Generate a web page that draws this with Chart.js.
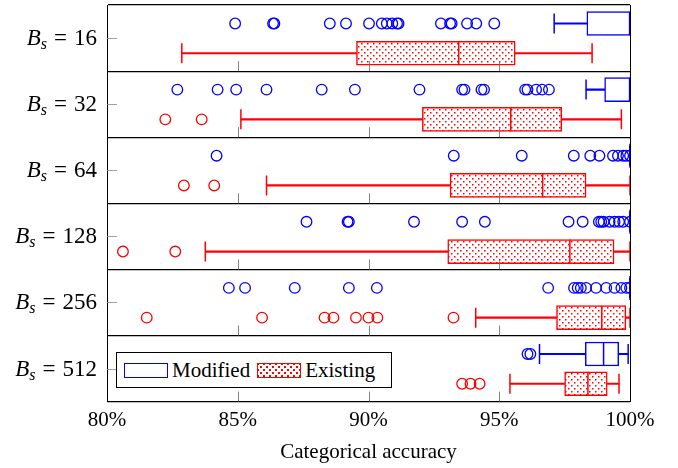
<!DOCTYPE html>
<html>
<head>
<meta charset="utf-8">
<script src="https://cdn.jsdelivr.net/npm/chart.js@4"></script>
<style>
  body { margin: 0; background: #fff; }
  #wrap { position: relative; width: 678px; height: 468px; }
  #legend {
    position: absolute; left: 116px; top: 352px; width: 276px; height: 36px;
    border: 1px solid #000; background: #fff;
    font: 21px "Liberation Serif", serif; color: #000;
    display: flex; align-items: center; padding-left: 7px; box-sizing: border-box;
  }
  .sw { width: 44px; height: 15px; margin-right: 4px; box-sizing: border-box; }
  .sw.mod { border: 1.5px solid #0000ff; background: #fff; }
  .sw.ex {
    border: 1.5px solid #ff0000; background-color: #fff; margin-left: 7px;
    background-image: radial-gradient(#ff0000 0.9px, transparent 1.1px),
                      radial-gradient(#ff0000 0.9px, transparent 1.1px);
    background-size: 6px 6px; background-position: 0 0, 3px 3px;
  }
</style>
</head>
<body>
<div id="wrap">
  <canvas id="chart" width="678" height="468"></canvas>
  <div id="legend"><div class="sw mod"></div>Modified<div class="sw ex"></div>Existing</div>
</div>
<script>
// batch sizes, one panel each (top to bottom)
const batchSizes = [16, 32, 64, 128, 256, 512];
const xTicks = [80, 85, 90, 95, 100];

// [lower whisker, Q1, median, Q3, upper whisker]
const modifiedBoxes = [
  [97.1, 98.35, 100, 100, 100],
  [98.32, 99.03, 100, 100, 100],
  [100, 100, 100, 100, 100],
  [100, 100, 100, 100, 100],
  [100, 100, 100, 100, 100],
  [96.54, 98.29, 98.99, 99.57, 99.93],
];
const existingBoxes = [
  [82.86, 89.54, 93.45, 95.61, 98.55],
  [85.12, 92.06, 95.44, 97.39, 99.67],
  [86.1, 93.12, 96.66, 98.32, 100],
  [83.76, 93.03, 97.7, 99.39, 100],
  [94.1, 97.19, 98.92, 99.84, 100],
  [95.41, 97.5, 98.39, 99.13, 99.58],
];

const modifiedOutliers = [
  [84.9, 86.35, 86.4, 88.52, 89.14, 90.02, 90.51, 90.7, 90.91, 91.09, 91.15, 92.77, 93.12, 93.18, 93.77, 94.12, 94.81],
  [82.69, 84.23, 84.94, 86.1, 88.21, 89.48, 91.95, 93.58, 93.67, 94.32, 94.42, 95.99, 96.08, 96.41, 96.64, 96.9],
  [84.19, 93.26, 95.86, 97.85, 98.48, 98.83, 99.35, 99.54, 99.74, 99.86, 100],
  [87.63, 89.2, 89.25, 91.74, 93.58, 94.45, 97.65, 98.19, 98.81, 98.9, 98.99, 99.22, 99.41, 99.58, 99.74, 100],
  [84.66, 85.28, 87.18, 89.25, 90.32, 96.87, 97.86, 98.0, 98.12, 98.32, 98.7, 99.09, 99.41, 99.67, 99.86, 100],
  [96.08, 96.19],
];
const existingOutliers = [
  [],
  [82.23, 83.62],
  [82.94, 84.1],
  [80.61, 82.61],
  [81.52, 85.93, 88.32, 88.66, 89.52, 90.0, 90.34, 93.25],
  [93.58, 93.9, 94.25],
];

const BLUE = "#0000ff";
const RED = "#ff0000";
const MOD_ROW = 0.28; // row of the Modified box inside a panel
const EX_ROW = 0.73;
const FONT = "Liberation Serif";

// red dotted fill for the Existing boxes
const tile = document.createElement("canvas");
tile.width = 6;
tile.height = 6;
const tctx = tile.getContext("2d");
tctx.fillStyle = "#fff";
tctx.fillRect(0, 0, 6, 6);
tctx.fillStyle = RED;
tctx.fillRect(1, 1, 1.5, 1.5);
tctx.fillRect(4, 4, 1.5, 1.5);
const dots = tctx.createPattern(tile, "repeat");

function boxSets(boxes, outliers, row, color, fill) {
  const box = [], whisk = [], caps = [], meds = [], outs = [];
  boxes.forEach((b, i) => {
    const y = i + row;
    box.push({ x: [b[1], b[3]], y: y });
    whisk.push({ x: [b[0], b[1]], y: y });
    whisk.push({ x: [b[3], b[4]], y: y });
    caps.push({ x: b[0], y: y }, { x: b[4], y: y });
    meds.push({ x: b[2], y: y });
    outliers[i].forEach((v) => outs.push({ x: v, y: y }));
  });
  return [
    { type: "scatter", data: meds, pointStyle: "line", rotation: 90, radius: 12,
      borderColor: color, borderWidth: 1.5 },
    { type: "bar", data: box, backgroundColor: fill, borderColor: color, borderWidth: 1.5,
      borderSkipped: false, barThickness: 24, grouped: false },
    { type: "scatter", data: caps, pointStyle: "line", rotation: 90, radius: 10,
      borderColor: color, borderWidth: 1.5 },
    { type: "bar", data: whisk, backgroundColor: color, borderWidth: 0,
      barThickness: 1.5, grouped: false },
    { type: "scatter", data: outs, pointStyle: "circle", radius: 5.3,
      backgroundColor: "rgba(0,0,0,0)", borderColor: color, borderWidth: 1.3 },
  ];
}

// inner tick marks and the B_s labels
const decor = {
  id: "decor",
  afterDraw(chart) {
    const { ctx, chartArea, scales } = chart;
    const x = scales.x, y = scales.y;
    ctx.save();
    ctx.strokeStyle = "#666";
    ctx.lineWidth = 0.8;
    for (let j = 1; j <= batchSizes.length; j++) {
      const py = y.getPixelForValue(j);
      xTicks.slice(1, -1).forEach((t) => {
        const px = Math.round(x.getPixelForValue(t)) + 0.5;
        ctx.beginPath();
        ctx.moveTo(px, py);
        ctx.lineTo(px, py - 10);
        ctx.stroke();
      });
    }
    batchSizes.forEach((b, i) => {
      const py = Math.round(y.getPixelForValue(i + 0.5)) + 0.5;
      ctx.strokeStyle = "#888";
      ctx.beginPath();
      ctx.moveTo(chartArea.left, py);
      ctx.lineTo(chartArea.left + 10, py);
      ctx.stroke();

      const big = "italic 23px " + FONT, small = "italic 16px " + FONT, reg = "23px " + FONT;
      const eq = "=", num = String(b);
      ctx.font = big; const wB = ctx.measureText("B").width;
      ctx.font = small; const wS = ctx.measureText("s").width;
      ctx.font = reg;
      const wE = ctx.measureText(eq).width, wN = ctx.measureText(num).width;
      const gap = 7;
      let px = chartArea.left - 10 - (wB + wS + gap + wE + gap + wN);
      ctx.fillStyle = "#000";
      ctx.textBaseline = "alphabetic";
      const base = py + 6;
      ctx.font = big; ctx.fillText("B", px, base); px += wB;
      ctx.font = small; ctx.fillText("s", px, base + 4); px += wS + gap;
      ctx.font = reg; ctx.fillText(eq, px, base); px += wE + gap;
      ctx.fillText(num, px, base);
    });
    ctx.restore();
  },
};

new Chart(document.getElementById("chart").getContext("2d"), {
  type: "bar",
  data: {
    datasets: [
      ...boxSets(modifiedBoxes, modifiedOutliers, MOD_ROW, BLUE, "#fff"),
      ...boxSets(existingBoxes, existingOutliers, EX_ROW, RED, dots),
    ],
  },
  options: {
    indexAxis: "y",
    responsive: false,
    animation: false,
    layout: { autoPadding: false, padding: { left: 0, top: 5, right: 48, bottom: 3 } },
    plugins: { legend: { display: false }, tooltip: { enabled: false } },
    scales: {
      x: {
        type: "linear",
        min: 80,
        max: 100,
        afterBuildTicks: (s) => { s.ticks = xTicks.map((v) => ({ value: v })); },
        ticks: {
          callback: (v) => v + "%",
          color: "#000",
          font: { family: FONT, size: 21 },
          padding: 6,
          maxRotation: 0,
        },
        grid: {
          drawTicks: false,
          color: (c) => (c.tick && (c.tick.value === 80 || c.tick.value === 100) ? "#000" : "rgba(0,0,0,0)"),
        },
        border: { color: "#000", width: 1 },
        title: {
          display: true,
          text: "Categorical accuracy",
          color: "#000",
          font: { family: FONT, size: 21 },
          padding: { top: 1, bottom: 0 },
        },
      },
      y: {
        type: "linear",
        min: 0,
        max: batchSizes.length,
        reverse: true,
        offset: false,
        afterBuildTicks: (s) => { s.ticks = [0, 1, 2, 3, 4, 5, 6].map((v) => ({ value: v })); },
        afterFit: (s) => { s.width = 107; },
        ticks: { display: false },
        grid: { drawTicks: false, offset: false, color: "#000", lineWidth: 1.2 },
        border: { color: "#000", width: 1 },
      },
    },
  },
  plugins: [decor],
});
</script>
</body>
</html>
